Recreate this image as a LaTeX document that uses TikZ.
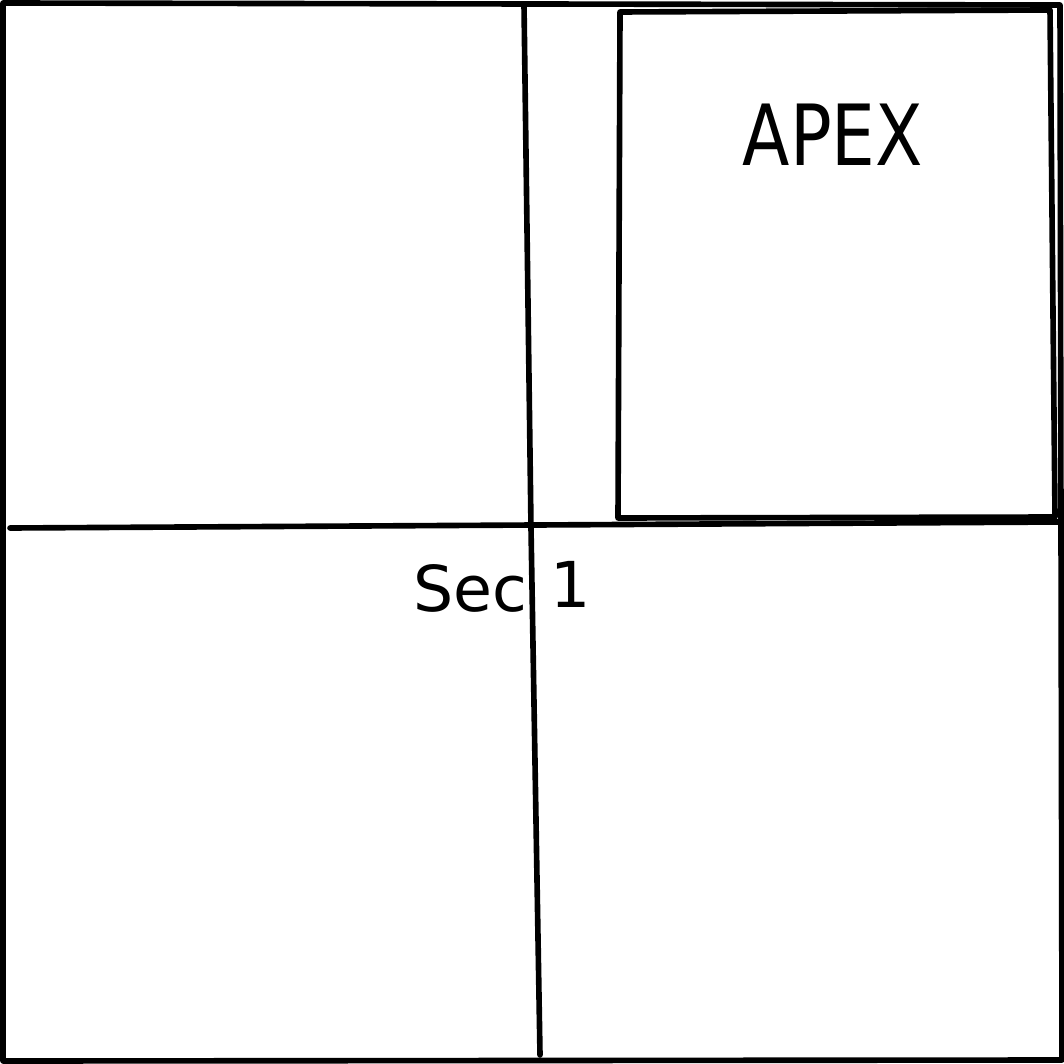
\documentclass[tikz,border=0pt]{standalone}
\usepackage{fontspec}
\setmainfont{DejaVu Sans}
\begin{document}
\begin{tikzpicture}[x=0.01cm,y=-0.01cm,
  frame/.style={draw=black,line width=1.6pt,line join=round,line cap=round},
  hand/.style={inner sep=0pt}]
\useasboundingbox (0,0) rectangle (1064,1064);
\fill[white] (0,0) rectangle (1064,1064);
% outer frame
\draw[frame] (3,3) -- (1060,5) -- (1062,1060) -- (3,1061) -- cycle;
% horizontal divider
\coordinate (hl) at (10,528);
\coordinate (hr) at (1060,522);
\draw[frame] (hl) -- (hr);
% vertical divider
\coordinate (vt) at (524,5);
\coordinate (vm) at (531,528);
\coordinate (vb) at (540,1055);
\draw[frame] (vt) -- (vm) -- (vb);
% apex box
\draw[frame] (620,12) -- (1050,10) -- (1055,517) -- (618,518) -- cycle;
\node[hand,font=\fontsize{24}{28}\selectfont] (apex) at (833,135) {\scalebox{0.82}[1]{APEX}};
\node[hand,anchor=east,font=\fontsize{18}{22}\selectfont] (sec) at (528,588) {Sec};
\node[hand,anchor=west,font=\fontsize{18}{22}\selectfont] (one) at (550,584) {1};
\end{tikzpicture}
\end{document}
